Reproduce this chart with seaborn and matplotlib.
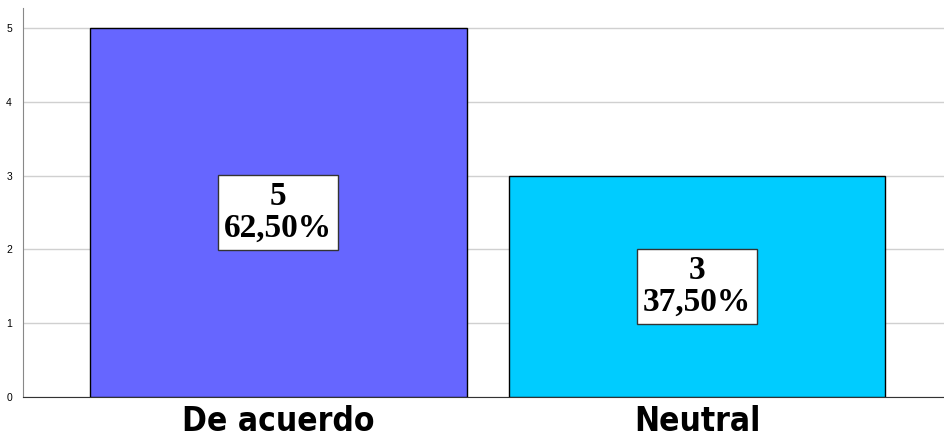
import pandas as pd
import matplotlib
matplotlib.use("Agg")
import matplotlib.pyplot as plt
import seaborn as sns

# values
categorias = ["De acuerdo", "Neutral"]
frecuencias = [5, 3]
porcentajes = ["62,50%", "37,50%"]
colores = ["#6666FF", "#00CCFF"]

df = pd.DataFrame({"categoria": categorias, "n": frecuencias})

sns.set_style("white")
plt.rcParams["font.family"] = ["Liberation Sans", "DejaVu Sans"]
plt.rcParams["text.color"] = "black"
plt.rcParams["xtick.color"] = "black"
plt.rcParams["ytick.color"] = "black"

fig = plt.figure(figsize=(9.44, 4.44), dpi=100)
ax = fig.add_axes([0.0244, 0.106, 0.9756, 0.876])

sns.barplot(data=df, x="categoria", y="n", hue="categoria", palette=colores,
            saturation=1, width=0.9, edgecolor="black", linewidth=1.0,
            legend=False, ax=ax, zorder=3)

ax.set_xlim(-0.61, 1.59)
ax.set_ylim(0, 5.27)
ax.set_yticks(range(0, 6))
ax.yaxis.grid(True, color="#d0d0d0", linewidth=1, zorder=0)
ax.set_axisbelow(True)
ax.tick_params(axis="y", labelsize=7.5, length=0, pad=8)
ax.tick_params(axis="x", length=0, pad=6)
ax.set_xticks(range(len(categorias)))
ax.set_xticklabels(categorias, fontsize=24, fontweight="bold",
                   family="DejaVu Sans", fontstretch="condensed")
ax.set_xlabel("")
ax.set_ylabel("")

for s in ["top", "right"]:
    ax.spines[s].set_visible(False)
ax.spines["left"].set_color("#888888")
ax.spines["bottom"].set_color("#333333")

for i, (n, p) in enumerate(zip(frecuencias, porcentajes)):
    ax.text(i, n / 2, f"{n}\n{p}", ha="center", va="center", fontsize=24,
            fontweight="bold", family=["Liberation Serif", "DejaVu Serif"],
            linespacing=1.05, zorder=5,
            bbox=dict(boxstyle="square,pad=0.18", facecolor="white",
                      edgecolor="#333333", linewidth=1))

fig.savefig("out.png", dpi=100)
